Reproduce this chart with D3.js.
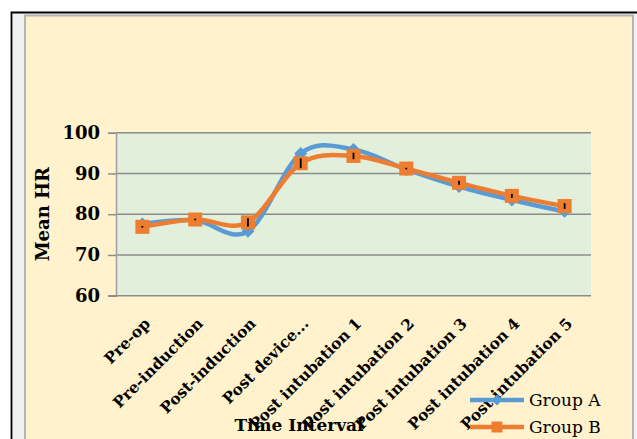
<!DOCTYPE html>
<html>
<head>
<meta charset="utf-8">
<script src="https://cdn.jsdelivr.net/npm/d3@7"></script>
<style>
  body { margin: 0; background: #fff; }
  svg { display: block; }
  .tick_label { font-family: "DejaVu Serif", serif; font-weight: bold; font-size: 18px; fill: #000; }
  .cat_label { font-family: "DejaVu Serif", serif; font-weight: bold; font-size: 15.5px; fill: #000; }
  .label_title { font-family: "DejaVu Serif", serif; font-weight: bold; font-size: 17px; fill: #000; }
  .legend_text { font-family: "DejaVu Serif", serif; font-size: 17px; fill: #000; }
</style>
</head>
<body>
<svg id="chart" width="637" height="439"></svg>
<script>
let categories = ["Pre-op", "Pre-induction", "Post-induction", "Post device...",
  "Post intubation 1", "Post intubation 2", "Post intubation 3",
  "Post intubation 4", "Post intubation 5"]
let group_a = [77.6, 78.5, 75.8, 94.9, 95.9, 91.0, 86.8, 83.5, 80.7]
let group_b = [76.9, 78.7, 78.0, 92.5, 94.3, 91.2, 87.7, 84.5, 82.0]
let err_b = [0.2, 0.2, 1.0, 1.2, 0.8, 0.2, 0.5, 0.5, 0.7]
let y_ticks = [60, 70, 80, 90, 100]
let series_names = ["Group A", "Group B"]

let width = 637,
  height = 439,
  margins = {left: 116, right: 46, top: 132.7, bottom: 143.3};

let svg = d3.select("#chart")

function make_scales() {
  return {
    x: d3.scaleBand()
         .domain(categories)
         .range([margins.left, width - margins.right]),
    y: d3.scaleLinear()
         .domain([60, 100])
         .range([height - margins.bottom, margins.top]),
    color: d3.scaleOrdinal()
         .domain(series_names)
         .range(["#5B9BD5", "#ED7D31"])
  }
}

function background() {
  // outer frame with black top/left edge
  svg.append("rect")
    .attr("x", 12).attr("y", 13).attr("width", width - 12).attr("height", height - 13)
    .attr("fill", "#F0F0F0")
  svg.append("path")
    .attr("d", `M11.5,${height}V12.5H${width}`)
    .attr("fill", "none").attr("stroke", "#000").attr("stroke-width", 1.8)
  svg.append("rect")
    .attr("x", 25).attr("y", 15.5).attr("width", 608).attr("height", height)
    .attr("fill", "#FFF2CC").attr("stroke", "#B4B4B4").attr("stroke-width", 2)
}

function axes(scales) {
  let plot = svg.append("g")
  plot.append("rect")
    .attr("x", margins.left).attr("y", margins.top)
    .attr("width", width - margins.right - margins.left)
    .attr("height", height - margins.bottom - margins.top)
    .attr("fill", "#E2EFDA")

  plot.selectAll(".grid")
    .data(y_ticks.slice(1)).enter()
    .append("line")
    .attr("x1", margins.left).attr("x2", width - margins.right)
    .attr("y1", d => scales.y(d)).attr("y2", d => scales.y(d))
    .attr("stroke", "#8C8C8C").attr("stroke-width", 1.5)

  let y_axis = svg.append("g")
    .attr("transform", `translate(${margins.left}, 0)`)
    .call(d3.axisLeft(scales.y).tickValues(y_ticks).tickSize(8).tickPadding(8))
  y_axis.select(".domain").attr("stroke", "#A0A0A0").attr("stroke-width", 1.5)
  y_axis.selectAll(".tick line").attr("stroke", "#8C8C8C").attr("stroke-width", 1.5)
  y_axis.selectAll(".tick text").attr("class", "tick_label").attr("font-size", null).attr("font-family", null)

  svg.append("line")
    .attr("x1", margins.left - 8).attr("x2", width - margins.right)
    .attr("y1", scales.y(60)).attr("y2", scales.y(60))
    .attr("stroke", "#8C8C8C").attr("stroke-width", 1.5)

  svg.append("g").selectAll("text")
    .data(categories).enter()
    .append("text")
    .attr("class", "cat_label")
    .attr("text-anchor", "end")
    .attr("dy", "0.35em")
    .attr("transform", d => `translate(${scales.x(d) + scales.x.bandwidth() / 2 + 5}, ${scales.y(60) + 25})rotate(-45)`)
    .text(d => d)

  svg.append("text").text("Time Interval")
    .attr("class", "label_title")
    .attr("text-anchor", "middle")
    .attr("transform", `translate(299, 431)`)
  svg.append("text").text("Mean HR")
    .attr("class", "label_title")
    .attr("text-anchor", "middle")
    .style("font-size", "18px")
    .attr("transform", `translate(49, ${(margins.top + height - margins.bottom) / 2})rotate(-90)`)
}

function diamond(r) {
  return `M0,${-r}L${r},0L0,${r}L${-r},0Z`
}

function series(scales) {
  let cx = d => scales.x(d) + scales.x.bandwidth() / 2
  let line = d3.line().curve(d3.curveCatmullRom.alpha(0))
  let data = [group_a, group_b]

  data.forEach((values, i) => {
    let pts = values.map((v, j) => [cx(categories[j]), scales.y(v)])
    let g = svg.append("g")
    g.append("path")
      .attr("d", line(pts))
      .attr("fill", "none")
      .attr("stroke", scales.color(series_names[i]))
      .attr("stroke-width", 4.5)
    g.selectAll("path.marker")
      .data(pts).enter()
      .append("path")
      .attr("class", "marker")
      .attr("transform", p => `translate(${p[0]}, ${p[1]})`)
      .attr("d", i == 0 ? diamond(6.5) : d3.symbol(d3.symbolSquare, 196)())
      .attr("fill", scales.color(series_names[i]))
  })

  svg.append("g").selectAll("line")
    .data(group_b).enter()
    .append("line")
    .attr("x1", (d, j) => cx(categories[j])).attr("x2", (d, j) => cx(categories[j]))
    .attr("y1", (d, j) => scales.y(d - err_b[j]))
    .attr("y2", (d, j) => scales.y(d + err_b[j]))
    .attr("stroke", "#000").attr("stroke-width", 1.8)
}

function legend(scales) {
  let rows = svg.append("g").selectAll("g")
    .data(series_names).enter()
    .append("g")
    .attr("transform", (d, i) => `translate(470, ${400 + 27 * i})`)
  rows.append("line")
    .attr("x1", 0).attr("x2", 54)
    .attr("stroke", d => scales.color(d)).attr("stroke-width", 4.5)
  rows.append("path")
    .attr("transform", "translate(27, 0)")
    .attr("d", (d, i) => i == 0 ? diamond(5.5) : d3.symbol(d3.symbolSquare, 120)())
    .attr("fill", d => scales.color(d))
  rows.append("text")
    .attr("class", "legend_text")
    .attr("x", 59).attr("dy", "0.35em")
    .text(d => d)
}

let scales = make_scales()
background()
axes(scales)
series(scales)
legend(scales)
</script>
</body>
</html>
